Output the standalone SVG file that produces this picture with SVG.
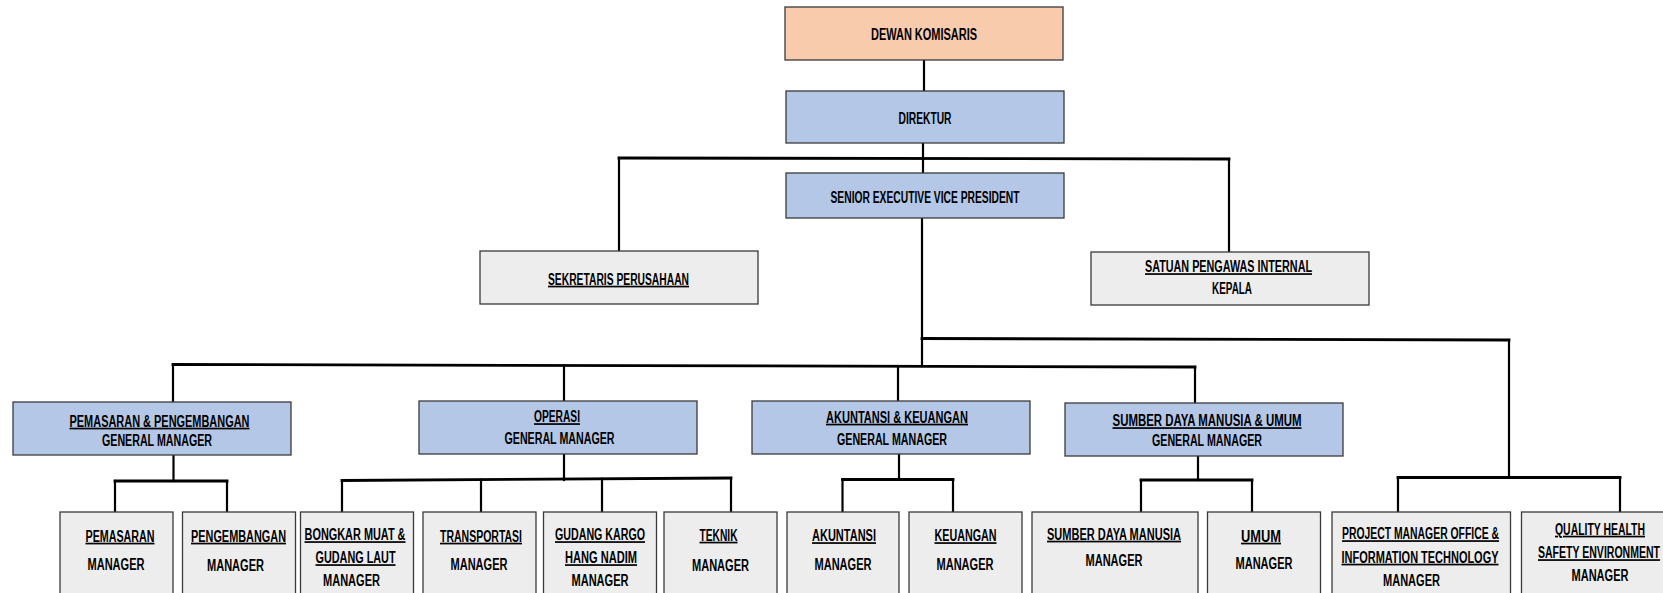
<svg xmlns="http://www.w3.org/2000/svg" width="1663" height="593" viewBox="0 0 1663 593">
<style>
.box{stroke:#3a3a3a;stroke-width:1.3}
.org{fill:#F8CBAD}
.blue{fill:#B4C7E7}
.gray{fill:#EDEDED}
text{font-family:"Liberation Sans",Arial,sans-serif;font-weight:bold;font-size:17px;fill:#000;text-anchor:middle}
.u{text-decoration:underline}
.c line{stroke:#000;fill:none;stroke-linecap:square}
.h{stroke-width:2.8}
.v{stroke-width:2.2}
</style>
<rect width="1663" height="593" fill="#fff"/>
<g class="c" id="connectors">
<line class="v" x1="924" y1="60" x2="924" y2="91"/>
<line class="v" x1="923" y1="143" x2="923" y2="173"/>
<line class="h" x1="619" y1="158" x2="1229" y2="159"/>
<line class="v" x1="619" y1="158" x2="619" y2="251"/>
<line class="v" x1="1229" y1="159" x2="1229" y2="252"/>
<line class="v" x1="922" y1="218" x2="922" y2="366"/>
<line class="h" x1="922" y1="338.5" x2="1509" y2="340"/>
<line class="v" x1="1509" y1="340" x2="1509" y2="477.5"/>
<line class="h" x1="1398" y1="477.5" x2="1620" y2="477.5"/>
<line class="v" x1="1398" y1="477.5" x2="1398" y2="512"/>
<line class="v" x1="1620" y1="477.5" x2="1620" y2="512"/>
<line class="h" x1="173" y1="364.5" x2="1195" y2="367"/>
<line class="v" x1="173" y1="364.5" x2="173" y2="402"/>
<line class="v" x1="564" y1="365.5" x2="564" y2="401"/>
<line class="v" x1="898" y1="366.3" x2="898" y2="401"/>
<line class="v" x1="1195" y1="367" x2="1195" y2="403"/>
<line class="v" x1="173.5" y1="455" x2="173.5" y2="481"/>
<line class="h" x1="115" y1="481" x2="227" y2="481"/>
<line class="v" x1="115" y1="481" x2="115" y2="512"/>
<line class="v" x1="227" y1="481" x2="227" y2="512"/>
<line class="v" x1="564" y1="454" x2="564" y2="480"/>
<line class="h" x1="342" y1="480.5" x2="731" y2="478"/>
<line class="v" x1="342" y1="480.5" x2="342" y2="512"/>
<line class="v" x1="481" y1="479.6" x2="481" y2="512"/>
<line class="v" x1="602" y1="478.8" x2="602" y2="512"/>
<line class="v" x1="731" y1="478" x2="731" y2="512"/>
<line class="v" x1="899" y1="454" x2="899" y2="479.5"/>
<line class="h" x1="842.5" y1="479.5" x2="953" y2="479.5"/>
<line class="v" x1="842.5" y1="479.5" x2="842.5" y2="512"/>
<line class="v" x1="953" y1="479.5" x2="953" y2="512"/>
<line class="v" x1="1198" y1="456" x2="1198" y2="480"/>
<line class="h" x1="1141" y1="480" x2="1252" y2="480"/>
<line class="v" x1="1141" y1="480" x2="1141" y2="512"/>
<line class="v" x1="1252" y1="480" x2="1252" y2="512"/>
</g>
<g id="dewan-komisaris"><rect class="box org" x="785" y="7" width="278" height="53"/><text transform="matrix(0.63 0 0 1 924 39.5)" textLength="168.3" lengthAdjust="spacingAndGlyphs">DEWAN KOMISARIS</text></g>
<g id="direktur"><rect class="box blue" x="786" y="91" width="278" height="52"/><text transform="matrix(0.63 0 0 1 925 124)" textLength="84.1" lengthAdjust="spacingAndGlyphs">DIREKTUR</text></g>
<g id="sevp"><rect class="box blue" x="786" y="173" width="278" height="45"/><text transform="matrix(0.63 0 0 1 925 203)" textLength="300" lengthAdjust="spacingAndGlyphs">SENIOR EXECUTIVE VICE PRESIDENT</text></g>
<g id="sekretaris"><rect class="box gray" x="480" y="251" width="278" height="53"/><text class="u" transform="matrix(0.63 0 0 1 618.5 284.5)" textLength="223.8" lengthAdjust="spacingAndGlyphs">SEKRETARIS PERUSAHAAN</text></g>
<g id="spi"><rect class="box gray" x="1091" y="252" width="278" height="53"/><text class="u" transform="matrix(0.63 0 0 1 1228.5 272)" textLength="265.1" lengthAdjust="spacingAndGlyphs">SATUAN PENGAWAS INTERNAL</text><text transform="matrix(0.63 0 0 1 1232 294)" textLength="63.5" lengthAdjust="spacingAndGlyphs">KEPALA</text></g>
<g id="gm-pemasaran"><rect class="box blue" x="13" y="402" width="278" height="53"/><text class="u" transform="matrix(0.63 0 0 1 159.5 426.5)" textLength="285.7" lengthAdjust="spacingAndGlyphs">PEMASARAN &amp; PENGEMBANGAN</text><text transform="matrix(0.63 0 0 1 157 446)" textLength="174.6" lengthAdjust="spacingAndGlyphs">GENERAL MANAGER</text></g>
<g id="gm-operasi"><rect class="box blue" x="419" y="401" width="278" height="53"/><text class="u" transform="matrix(0.63 0 0 1 557 422)" textLength="73" lengthAdjust="spacingAndGlyphs">OPERASI</text><text transform="matrix(0.63 0 0 1 559.5 444)" textLength="174.6" lengthAdjust="spacingAndGlyphs">GENERAL MANAGER</text></g>
<g id="gm-akuntansi"><rect class="box blue" x="752" y="401" width="278" height="53"/><text class="u" transform="matrix(0.63 0 0 1 897 422.5)" textLength="225.4" lengthAdjust="spacingAndGlyphs">AKUNTANSI &amp; KEUANGAN</text><text transform="matrix(0.63 0 0 1 892 444.5)" textLength="174.6" lengthAdjust="spacingAndGlyphs">GENERAL MANAGER</text></g>
<g id="gm-sdm"><rect class="box blue" x="1065" y="403" width="278" height="53"/><text class="u" transform="matrix(0.63 0 0 1 1207 426)" textLength="300" lengthAdjust="spacingAndGlyphs">SUMBER DAYA MANUSIA &amp; UMUM</text><text transform="matrix(0.63 0 0 1 1207 446)" textLength="174.6" lengthAdjust="spacingAndGlyphs">GENERAL MANAGER</text></g>
<g id="pemasaran"><rect class="box gray" x="60" y="512" width="113" height="90"/><text class="u" transform="matrix(0.63 0 0 1 120 541.5)" textLength="109.5" lengthAdjust="spacingAndGlyphs">PEMASARAN</text><text transform="matrix(0.63 0 0 1 116 570)" textLength="90.5" lengthAdjust="spacingAndGlyphs">MANAGER</text></g>
<g id="pengembangan"><rect class="box gray" x="182.5" y="512" width="113" height="90"/><text class="u" transform="matrix(0.63 0 0 1 238.5 541.5)" textLength="150.8" lengthAdjust="spacingAndGlyphs">PENGEMBANGAN</text><text transform="matrix(0.63 0 0 1 235.5 571)" textLength="90.5" lengthAdjust="spacingAndGlyphs">MANAGER</text></g>
<g id="bongkar"><rect class="box gray" x="300.5" y="512" width="113" height="90"/><text class="u" transform="matrix(0.63 0 0 1 355 540)" textLength="160.3" lengthAdjust="spacingAndGlyphs">BONGKAR MUAT &amp;</text><text class="u" transform="matrix(0.63 0 0 1 355.5 563)" textLength="127" lengthAdjust="spacingAndGlyphs">GUDANG LAUT</text><text transform="matrix(0.63 0 0 1 351.5 586)" textLength="90.5" lengthAdjust="spacingAndGlyphs">MANAGER</text></g>
<g id="transportasi"><rect class="box gray" x="423" y="512" width="113" height="90"/><text class="u" transform="matrix(0.63 0 0 1 481 541.5)" textLength="130.2" lengthAdjust="spacingAndGlyphs">TRANSPORTASI</text><text transform="matrix(0.63 0 0 1 479 570)" textLength="90.5" lengthAdjust="spacingAndGlyphs">MANAGER</text></g>
<g id="gudang-kargo"><rect class="box gray" x="543.5" y="512" width="113" height="90"/><text class="u" transform="matrix(0.63 0 0 1 600 540)" textLength="142.9" lengthAdjust="spacingAndGlyphs">GUDANG KARGO</text><text class="u" transform="matrix(0.63 0 0 1 601 563)" textLength="114.3" lengthAdjust="spacingAndGlyphs">HANG NADIM</text><text transform="matrix(0.63 0 0 1 600 586)" textLength="90.5" lengthAdjust="spacingAndGlyphs">MANAGER</text></g>
<g id="teknik"><rect class="box gray" x="664" y="512" width="113" height="90"/><text class="u" transform="matrix(0.63 0 0 1 718.5 540.5)" textLength="60.3" lengthAdjust="spacingAndGlyphs">TEKNIK</text><text transform="matrix(0.63 0 0 1 720.5 570.5)" textLength="90.5" lengthAdjust="spacingAndGlyphs">MANAGER</text></g>
<g id="akuntansi"><rect class="box gray" x="787" y="512" width="112" height="90"/><text class="u" transform="matrix(0.63 0 0 1 844 541)" textLength="101.6" lengthAdjust="spacingAndGlyphs">AKUNTANSI</text><text transform="matrix(0.63 0 0 1 843 569.5)" textLength="90.5" lengthAdjust="spacingAndGlyphs">MANAGER</text></g>
<g id="keuangan"><rect class="box gray" x="909" y="512" width="113" height="90"/><text class="u" transform="matrix(0.63 0 0 1 965.5 541)" textLength="98.4" lengthAdjust="spacingAndGlyphs">KEUANGAN</text><text transform="matrix(0.63 0 0 1 965 569.5)" textLength="90.5" lengthAdjust="spacingAndGlyphs">MANAGER</text></g>
<g id="sdm"><rect class="box gray" x="1032" y="512" width="166" height="90"/><text class="u" transform="matrix(0.63 0 0 1 1114 539.5)" textLength="212.7" lengthAdjust="spacingAndGlyphs">SUMBER DAYA MANUSIA</text><text transform="matrix(0.63 0 0 1 1114 565.5)" textLength="90.5" lengthAdjust="spacingAndGlyphs">MANAGER</text></g>
<g id="umum"><rect class="box gray" x="1207.5" y="512" width="113" height="90"/><text class="u" transform="matrix(0.63 0 0 1 1261 541.5)" textLength="63.5" lengthAdjust="spacingAndGlyphs">UMUM</text><text transform="matrix(0.63 0 0 1 1264 568.5)" textLength="90.5" lengthAdjust="spacingAndGlyphs">MANAGER</text></g>
<g id="pmo-it"><rect class="box gray" x="1332" y="512" width="178.5" height="90"/><text class="u" transform="matrix(0.63 0 0 1 1420.5 539)" textLength="249.2" lengthAdjust="spacingAndGlyphs">PROJECT MANAGER OFFICE &amp;</text><text class="u" transform="matrix(0.63 0 0 1 1420 562.5)" textLength="249.2" lengthAdjust="spacingAndGlyphs">INFORMATION TECHNOLOGY</text><text transform="matrix(0.63 0 0 1 1411.5 585.5)" textLength="90.5" lengthAdjust="spacingAndGlyphs">MANAGER</text></g>
<g id="qhse"><rect class="box gray" x="1521.5" y="512" width="178" height="90"/><text class="u" transform="matrix(0.63 0 0 1 1600 534.5)" textLength="142.9" lengthAdjust="spacingAndGlyphs">QUALITY HEALTH</text><text class="u" transform="matrix(0.63 0 0 1 1599 558)" textLength="193.7" lengthAdjust="spacingAndGlyphs">SAFETY ENVIRONMENT</text><text transform="matrix(0.63 0 0 1 1600 581)" textLength="90.5" lengthAdjust="spacingAndGlyphs">MANAGER</text></g>
</svg>
